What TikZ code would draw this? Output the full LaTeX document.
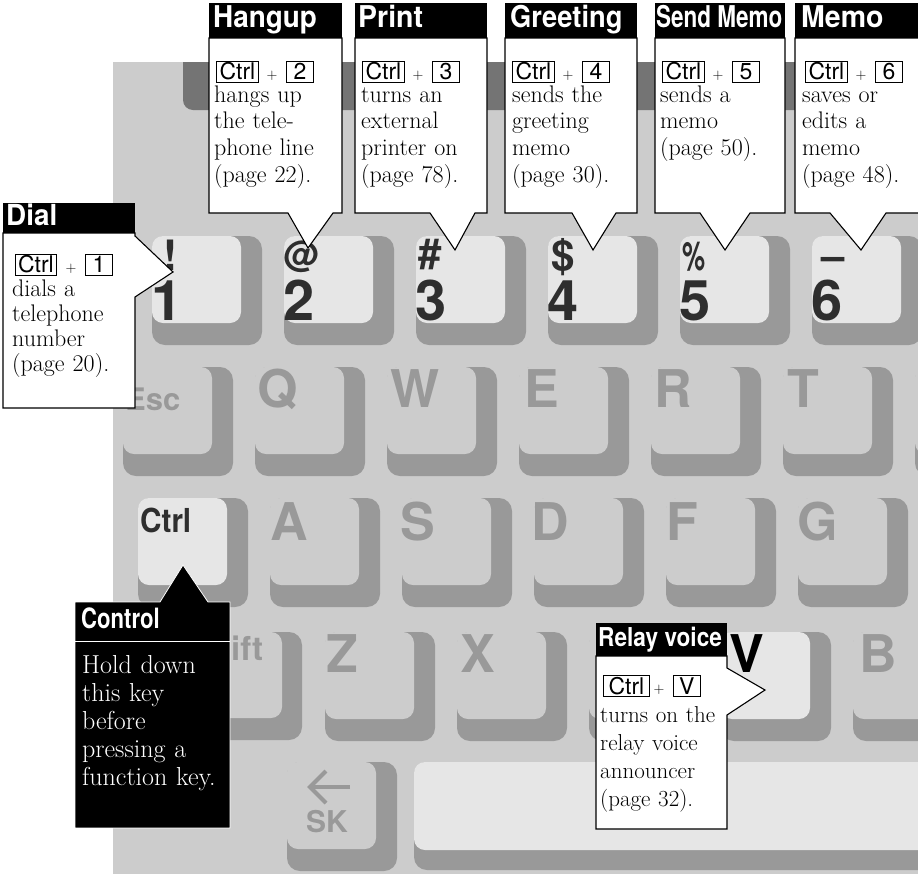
\documentclass[tikz,border=0pt]{standalone}
\usepackage{fontspec}
\usepackage{graphicx}
\newfontfamily\hv{TeX Gyre Heros}
\definecolor{kbbg}{HTML}{CCCCCC}
\definecolor{kbband}{HTML}{747474}
\definecolor{kbshad}{HTML}{999999}
\definecolor{kbface}{HTML}{E6E6E6}
\definecolor{kbdark}{HTML}{2E2E2E}
\newcommand\kbkey[3]{%
  \fill[kbshad,rounded corners=13pt] (#1,#2) rectangle ++(110,109);
  \fill[#3,rounded corners=11pt] (#1,#2) rectangle ++(89,87);}
\newcommand\kctxt[1]{#1}
\newcommand\callkeys[5]{%
  \node[kcap,minimum width=#5] (#1c) at (#2+7,#3) {\kctxt{Ctrl}};
  \node[plussign] (#1p) at (#2+63,#3+4) {+};
  \node[kcap,minimum width=27pt] (#1d) at (#2+77,#3) {\kctxt{#4}};}
\tikzset{
  callbody/.style={fill=white,draw=black,line width=1.1pt,line join=miter},
  hdrbar/.style={fill=black},
  hdrtext/.style={text=white,inner sep=0pt,anchor=base west,font=\hv\bfseries\fontsize{30}{30}\selectfont},
  kcap/.style={draw=black,line width=0.8pt,inner sep=0pt,minimum height=21pt,anchor=west,font=\hv\fontsize{23}{23}\selectfont},
  plussign/.style={inner sep=0pt,font=\fontsize{15}{15}\selectfont},
  bodytext/.style={inner sep=0pt,anchor=base west,align=left,text width=150pt,font=\fontsize{24}{26.7}\selectfont},
  legg/.style={text=kbshad,inner sep=0pt,anchor=base west,font=\hv\bfseries\fontsize{52}{52}\selectfont},
  legd/.style={legg,text=kbdark},
  digfont/.style={font=\hv\bfseries\fontsize{56}{56}\selectfont},
  symfont/.style={font=\hv\bfseries\fontsize{42}{42}\selectfont},
}
\begin{document}
\begin{tikzpicture}[x=1pt,y=-1pt]
\useasboundingbox (0,0) rectangle (918,873);
\clip (0,0) rectangle (918,873);
% keyboard background
\fill[kbbg] (113,62) rectangle (930,880);
\fill[kbband] (183,62) rectangle (930,95);
\fill[kbband,rounded corners=10pt] (183,80) rectangle (930,110);
% row 1
\foreach \i in {0,...,5} {\kbkey{152+132*\i}{236}{kbface}}
% row Q
\foreach \i in {0,...,6} {\kbkey{123+132*\i}{367}{kbbg}}
% row A
\kbkey{138}{498}{kbface}
\foreach \i in {1,...,5} {\kbkey{138+132*\i}{498}{kbbg}}
% row Z
\fill[kbshad,rounded corners=13pt] (150,632) rectangle (302,740);
\fill[kbbg,rounded corners=11pt] (150,632) rectangle (282,718);
\foreach \x in {325,457,589} {\kbkey{\x}{632}{kbbg}}
\kbkey{721}{632}{kbface}
\kbkey{853}{632}{kbbg}
% bottom row
\kbkey{287}{762}{kbbg}
\fill[kbshad,rounded corners=13pt] (414,762) rectangle (960,870);
\fill[kbface,rounded corners=11pt] (414,762) rectangle (950,850);
% row 1 legends
\foreach \d [count=\i from 0] in {1,...,6} {\node[legd,digfont] (dig\d) at (151+132*\i,320) {\d};}
\node[legd,symfont] (sym1) at (163,270) {!};
\node[legd,font=\hv\bfseries\fontsize{36}{36}\selectfont] (sym2) at (283,267) {@};
\node[legd,symfont] (sym3) at (418,268) {\#};
\node[legd,symfont] (sym4) at (551,270) {\$};
\node[legd,font=\hv\bfseries\fontsize{40}{40}\selectfont] (sym5) at (682,270) {\scalebox{0.65}[1]{\%}};
\node[legd,symfont] (sym6) at (821,270) {–};
% row Q legends
\node[legg,font=\hv\bfseries\fontsize{31}{31}\selectfont] (kesc) at (125,410) {Esc};
\node[legg] (kq) at (257,407) {Q};
\node[legg] (kw) at (390,407) {W};
\node[legg] (ke) at (524,407) {E};
\node[legg] (kr) at (654,407) {R};
\node[legg] (kt) at (787,407) {T};
% row A legends
\node[legd,font=\hv\bfseries\fontsize{33}{33}\selectfont] (kctrl) at (140,532) {\scalebox{0.9}[1]{Ctrl}};
\node[legg] (ka) at (270,540) {A};
\node[legg] (ks) at (400,540) {S};
\node[legg] (kd) at (531,540) {D};
\node[legg] (kf) at (666,540) {F};
\node[legg] (kg) at (797,540) {G};
% row Z legends
\node[legg,font=\hv\bfseries\fontsize{33}{33}\selectfont] (kshift) at (231,660) {ift};
\node[legg] (kz) at (326,672) {Z};
\node[legg] (kx) at (460,672) {X};
\node[legg,text=black] (kv) at (729,672) {V};
\node[legg] (kb) at (859,672) {B};
% SK
\draw[kbshad,line width=4pt] (350,787) -- (313,787);
\draw[kbshad,line width=4pt,line join=miter] (326,771) -- (310,787) -- (326,803);
\node[legg,font=\hv\bfseries\fontsize{30}{30}\selectfont] (ksk) at (306,832) {SK};
% ---------- callouts ----------
% Dial
\draw[callbody] (3,233) -- (135,233) -- (135,236) -- (173,272) -- (135,297) -- (135,408) -- (3,408) -- cycle;
\fill[hdrbar] (3,203) rectangle (135,233);
\node[hdrtext,font=\hv\bfseries\fontsize{29}{29}\selectfont] (dialH) at (6,225) {\scalebox{0.96}[1]{Dial}};
\callkeys{dial}{8}{264.5}{1}{41pt}
\node[bodytext,font=\fontsize{24}{25}\selectfont] (dialT) at (12,296) {dials a\\telephone\\number\\(page 20).};
% Hangup
\draw[callbody] (209,38) -- (342,38) -- (342,213) -- (333,213) -- (308,248) -- (288,213) -- (209,213) -- cycle;
\fill[hdrbar] (209,3) rectangle (342,38);
\node[hdrtext] (hangH) at (213,27) {\scalebox{0.93}[1]{Hangup}};
\callkeys{hang}{209}{71.5}{2}{42pt}
\node[bodytext] (hangT) at (214,102) {hangs up\\the tele-\\phone line\\(page 22).};
% Print
\draw[callbody] (355,38) -- (487,38) -- (487,213) -- (475,213) -- (455,250) -- (430,213) -- (355,213) -- cycle;
\fill[hdrbar] (355,3) rectangle (487,38);
\node[hdrtext] (printH) at (358,27) {\scalebox{0.95}[1]{Print}};
\callkeys{print}{355}{71.5}{3}{42pt}
\node[bodytext] (printT) at (361,102) {turns an\\external\\printer on\\(page 78).};
% Greeting
\draw[callbody] (505,38) -- (637,38) -- (637,213) -- (616,213) -- (593,250) -- (572,213) -- (505,213) -- cycle;
\fill[hdrbar] (505,3) rectangle (637,38);
\node[hdrtext] (greetH) at (510,27) {\scalebox{0.91}[1]{Greeting}};
\callkeys{greet}{505}{71.5}{4}{42pt}
\node[bodytext] (greetT) at (512,102) {sends the\\greeting\\memo\\(page 30).};
% Send Memo
\draw[callbody] (655,38) -- (785,38) -- (785,213) -- (750,213) -- (725,250) -- (700,213) -- (655,213) -- cycle;
\fill[hdrbar] (655,3) rectangle (785,38);
\node[hdrtext] (sendH) at (656,27) {\scalebox{0.75}[1]{Send Memo}};
\callkeys{send}{655}{71.5}{5}{42pt}
\node[bodytext] (sendT) at (660,102) {sends a\\memo\\(page 50).};
% Memo
\draw[callbody] (795,38) -- (935,38) -- (935,213) -- (886,213) -- (861,250) -- (830,213) -- (795,213) -- cycle;
\fill[hdrbar] (795,3) rectangle (935,38);
\node[hdrtext] (memoH) at (801,27) {\scalebox{0.95}[1]{Memo}};
\callkeys{memo}{798}{71.5}{6}{42pt}
\node[bodytext] (memoT) at (802,102) {saves or\\edits a\\memo\\(page 48).};
% Relay voice
\draw[callbody] (596,656) -- (727,656) -- (727,668) -- (765,690) -- (727,715) -- (727,829) -- (596,829) -- cycle;
\fill[hdrbar] (596,623) rectangle (727,656);
\node[hdrtext,font=\hv\bfseries\fontsize{26}{26}\selectfont] (relayH) at (598,646) {\scalebox{0.87}[1]{Relay voice}};
\callkeys{relay}{596}{686}{V}{46pt}
\node[bodytext,font=\fontsize{23}{28}\selectfont] (relayT) at (600,722) {turns on the\\relay voice\\announcer\\(page 32).};
% Control
\fill[black] (75,602) rectangle (230,828);
\fill[black] (160,602) -- (183,565) -- (208,602) -- cycle;
\draw[white,line width=0.8pt] (160,602) -- (183,565) -- (208,602) -- (230,602) -- (230,828) -- (75,828) -- (75,602) -- cycle;
\draw[white,line width=0.8pt] (75,641) -- (230,641);
\node[hdrtext,font=\hv\bfseries\fontsize{28}{28}\selectfont] (ctrlH) at (81,628) {\scalebox{0.79}[1]{Control}};
\node[bodytext,text=white,font=\fontsize{26}{28}\selectfont] (ctrlT) at (82,673) {Hold down\\this key\\before\\pressing a\\function key.};
\end{tikzpicture}
\end{document}
